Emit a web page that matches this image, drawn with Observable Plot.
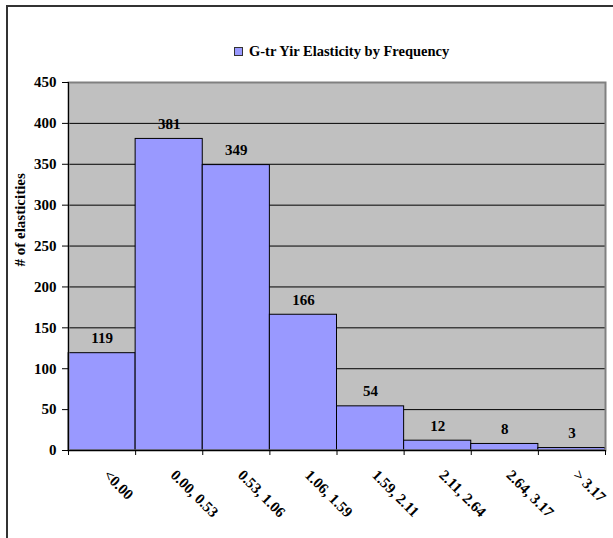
<!DOCTYPE html>
<html>
<head>
<meta charset="utf-8">
<script src="https://cdn.jsdelivr.net/npm/d3@7"></script>
<script src="https://cdn.jsdelivr.net/npm/@observablehq/plot@0.6"></script>
<style>
  html, body { margin: 0; padding: 0; background: #fff; overflow: hidden; }
  #wrap { position: relative; width: 613px; height: 538px; overflow: hidden; }
  #chart { position: absolute; left: 0; top: 0; }
  #border { position: absolute; left: 6px; top: 5px; width: 800px; height: 800px;
            border-top: 2px solid #333; border-left: 2px solid #333; pointer-events: none; }
  #legend { position: absolute; left: 234px; top: 42px; font-family: "Liberation Serif", "Times New Roman", serif;
            font-weight: bold; font-size: 14.5px; line-height: 18px; color: #000; display: flex; align-items: center; white-space: nowrap; }
  #legend .sw { width: 7px; height: 7px; background: #9999ff; border: 1px solid #333; margin-right: 6px; }
</style>
</head>
<body>
<div id="wrap">
  <div id="chart"></div>
  <div id="border"></div>
  <div id="legend"><span class="sw"></span><span>G-tr Yir Elasticity by Frequency</span></div>
</div>
<script>
const categories = ["<0.00", "0.00, 0.53", "0.53, 1.06", "1.06, 1.59", "1.59, 2.11", "2.11, 2.64", "2.64, 3.17", "> 3.17"];
const counts = [119, 381, 349, 166, 54, 12, 8, 3];
const yTicks = [0, 50, 100, 150, 200, 250, 300, 350, 400, 450];
const yTitle = "# of elasticities";

const font = "Liberation Serif, Times New Roman, serif";
const data = categories.map((c, i) => ({i, c, n: counts[i]}));
const edges = d3.range(categories.length + 1);

const chart = Plot.plot({
  width: 613,
  height: 538,
  marginLeft: 68,
  marginRight: 8,
  marginTop: 82,
  marginBottom: 88,
  x: {domain: [0, categories.length], axis: null},
  y: {domain: [0, 450], axis: null},
  style: {fontFamily: font, fontWeight: "bold", background: "transparent", color: "#000"},
  marks: [
    Plot.frame({fill: "#c0c0c0", stroke: null}),
    Plot.gridY(yTicks, {stroke: "#000", strokeOpacity: 1}),
    Plot.rectY(data, {x1: "i", x2: d => d.i + 1, y: "n", fill: "#9999ff", stroke: "#000", strokeWidth: 1}),
    Plot.frame({stroke: "#808080", strokeWidth: 2, fill: null}),
    Plot.axisY(yTicks, {label: null, tickSize: 6, tickPadding: 6, fontSize: 15, fontFamily: font, fontWeight: "bold", stroke: "#000"}),
    Plot.ruleX([0], {stroke: "#000"}),
    Plot.ruleY([0], {stroke: "#000"}),
    Plot.axisX(edges, {label: null, tickSize: 5, tickFormat: () => "", stroke: "#000"}),
    Plot.text(data, {x: d => d.i + 0.5, y: "n", text: d => String(d.n), lineAnchor: "bottom", dy: -10, fontSize: 15, fontFamily: font, fontWeight: "bold"}),
    Plot.text(data, {x: d => d.i + 0.5, frameAnchor: "bottom", text: "c", rotate: 45, textAnchor: "start", lineAnchor: "middle", dy: 22, dx: 4, fontSize: 15, fontFamily: font, fontWeight: "bold"}),
    Plot.text([yTitle], {frameAnchor: "left", text: d => d, rotate: -90, dx: -48, fontSize: 15, fontFamily: font, fontWeight: "bold"})
  ]
});
document.getElementById("chart").appendChild(chart);
</script>
</body>
</html>
